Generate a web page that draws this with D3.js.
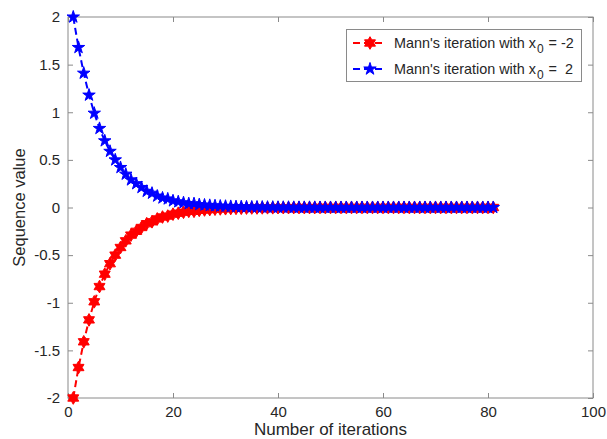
<!DOCTYPE html>
<html>
<head>
<meta charset="utf-8">
<script src="https://cdn.jsdelivr.net/npm/d3@7"></script>
<style>
  body { margin: 0; background: #fff; }
  svg text { font-family: "Liberation Sans", Arial, Helvetica, sans-serif; fill: #262626; }
</style>
</head>
<body>
<svg id="chart" width="607" height="439"></svg>
<script>
// iteration index 1..81
var iterations = d3.range(1, 82);

// Mann's iteration starting at x0 = 2
var seqPos = [2.00, 1.68, 1.41, 1.18, 0.99, 0.83, 0.70, 0.59, 0.50, 0.42,
	0.35, 0.29, 0.25, 0.21, 0.17, 0.15, 0.12, 0.10, 0.09, 0.07,
	0.06, 0.05, 0.04, 0.04, 0.03, 0.026, 0.022, 0.018, 0.015, 0.013,
	0.011, 0.009, 0.008, 0.006, 0.005, 0.005, 0.004, 0.003, 0.003, 0.002,
	0.002, 0.002, 0.001, 0.001, 0.001, 0.001, 0.001, 0, 0, 0,
	0, 0, 0, 0, 0, 0, 0, 0, 0, 0,
	0, 0, 0, 0, 0, 0, 0, 0, 0, 0,
	0, 0, 0, 0, 0, 0, 0, 0, 0, 0, 0];

// Mann's iteration starting at x0 = -2
var seqNeg = [-2.00, -1.68, -1.41, -1.18, -0.99, -0.83, -0.70, -0.59, -0.50, -0.42,
	-0.35, -0.29, -0.25, -0.21, -0.17, -0.15, -0.12, -0.10, -0.09, -0.07,
	-0.06, -0.05, -0.04, -0.04, -0.03, -0.026, -0.022, -0.018, -0.015, -0.013,
	-0.011, -0.009, -0.008, -0.006, -0.005, -0.005, -0.004, -0.003, -0.003, -0.002,
	-0.002, -0.002, -0.001, -0.001, -0.001, -0.001, -0.001, 0, 0, 0,
	0, 0, 0, 0, 0, 0, 0, 0, 0, 0,
	0, 0, 0, 0, 0, 0, 0, 0, 0, 0,
	0, 0, 0, 0, 0, 0, 0, 0, 0, 0, 0];

var xTicks = [0, 20, 40, 60, 80, 100];
var yTicks = [-2, -1.5, -1, -0.5, 0, 0.5, 1, 1.5, 2];
var seriesNames = ["Mann's iteration with x", "Mann's iteration with x"];
var seriesSuffix = ["= -2", "=  2"];

var margin = {left: 68, right: 14, top: 17, bottom: 41};
var W = 607, H = 439;
var svg = d3.select("#chart");

var x = d3.scaleLinear().domain([0, 100]).range([margin.left, W - margin.right]);
var y = d3.scaleLinear().domain([-2, 2]).range([H - margin.bottom, margin.top]);

var axisColor = "#8a8a8a";

// hexagram symbol (matlab 'h' marker)
var hexagram = {
	draw: function(ctx, size){
		var r = Math.sqrt(size / 1.3);
		var ri = r * 0.577;
		for(var i=0;i<12;i++){
			var a = -Math.PI/2 + i*Math.PI/6;
			var rr = (i % 2 == 0) ? r : ri;
			if(i == 0) ctx.moveTo(rr*Math.cos(a), rr*Math.sin(a));
			else ctx.lineTo(rr*Math.cos(a), rr*Math.sin(a));
		}
		ctx.closePath();
	}
};

// ticks and axis labels
var gx = svg.append("g").attr("transform", "translate(0," + y(-2) + ")")
	.call(d3.axisBottom(x).tickValues(xTicks).tickSize(-5).tickPadding(8).tickFormat(d3.format("d")));
var gxt = svg.append("g").attr("transform", "translate(0," + y(2) + ")")
	.call(d3.axisTop(x).tickValues(xTicks).tickSize(-5).tickFormat(""));
var gy = svg.append("g").attr("transform", "translate(" + x(0) + ",0)")
	.call(d3.axisLeft(y).tickValues(yTicks).tickSize(-5).tickPadding(8).tickFormat(function(d){ return d3.format("")(d).replace("−","-"); }));
var gyr = svg.append("g").attr("transform", "translate(" + x(100) + ",0)")
	.call(d3.axisRight(y).tickValues(yTicks).tickSize(-5).tickFormat(""));

[gx, gxt, gy, gyr].forEach(function(g){
	g.select(".domain").remove();
	g.selectAll(".tick line").attr("stroke", axisColor);
	g.selectAll("text").attr("font-size", 15).style("font-family", "\"Liberation Sans\", Arial, sans-serif").attr("fill", "#262626");
});

svg.append("rect")
	.attr("x", x(0)).attr("y", y(2))
	.attr("width", x(100) - x(0)).attr("height", y(-2) - y(2))
	.attr("fill", "none").attr("stroke", axisColor).attr("stroke-width", 1);

svg.append("text")
	.attr("x", (x(0) + x(100)) / 2).attr("y", 435)
	.attr("text-anchor", "middle").attr("font-size", 17)
	.text("Number of iterations");

svg.append("text")
	.attr("transform", "translate(25," + ((y(2) + y(-2)) / 2) + ") rotate(-90)")
	.attr("text-anchor", "middle").attr("font-size", 16.5)
	.text("Sequence value");

// series
var series = [
	{values: seqNeg, color: "#ff0000", symbol: hexagram, size: 52},
	{values: seqPos, color: "#0000ff", symbol: d3.symbolStar, size: 48}
];

var line = d3.line()
	.x(function(d){ return x(d[0]); })
	.y(function(d){ return y(d[1]); });

series.forEach(function(s){
	var pts = iterations.map(function(it, i){ return [it, s.values[i]]; });
	svg.append("path")
		.attr("d", line(pts))
		.attr("fill", "none")
		.attr("stroke", s.color)
		.attr("stroke-width", 2)
		.attr("stroke-dasharray", "7,4");
	svg.append("g").selectAll("path")
		.data(pts).enter().append("path")
		.attr("transform", function(d){ return "translate(" + x(d[0]) + "," + y(d[1]) + ")"; })
		.attr("d", d3.symbol().type(s.symbol).size(s.size))
		.attr("fill", s.color)
		.attr("stroke", s.color)
		.attr("stroke-width", 1);
});

// legend
var leg = svg.append("g");
leg.append("rect")
	.attr("x", 346.5).attr("y", 29.5).attr("width", 235).attr("height", 52)
	.attr("fill", "#fff").attr("stroke", axisColor);

series.forEach(function(s, i){
	var cy = 43 + i * 26;
	leg.append("line")
		.attr("x1", 353).attr("x2", 383).attr("y1", cy).attr("y2", cy)
		.attr("stroke", s.color).attr("stroke-width", 2).attr("stroke-dasharray", "7,4");
	leg.append("path")
		.attr("transform", "translate(370," + cy + ")")
		.attr("d", d3.symbol().type(s.symbol).size(s.size))
		.attr("fill", s.color).attr("stroke", s.color);
	var t = leg.append("text")
		.attr("x", 394).attr("y", cy + 5)
		.attr("font-size", 14.4)
		.style("white-space", "pre");
	t.append("tspan").text(seriesNames[i]);
	t.append("tspan").attr("dy", 5).attr("dx", 1).attr("font-size", 12).text("0");
	t.append("tspan").attr("dy", -5).attr("dx", 5).text(seriesSuffix[i]);
});
</script>
</body>
</html>
